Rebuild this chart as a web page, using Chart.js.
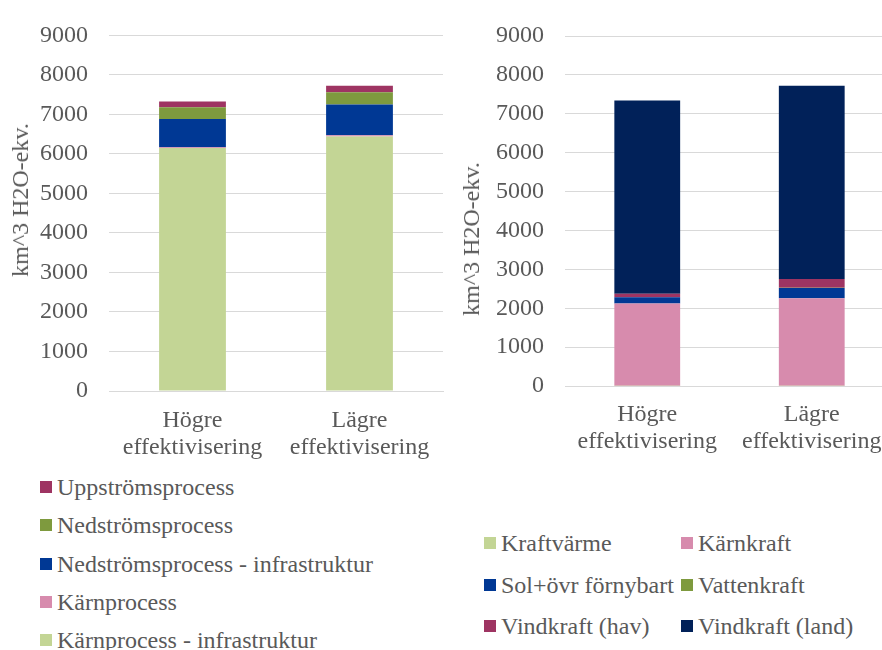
<!DOCTYPE html>
<html>
<head>
<meta charset="utf-8">
<script src="https://cdn.jsdelivr.net/npm/chart.js@4.4.1/dist/chart.umd.min.js"></script>
<style>
  html, body { margin: 0; padding: 0; background: #fff; overflow: hidden; width: 882px; height: 650px; }
  body { position: relative; font-family: 'Liberation Serif'; color: #595959; }
  canvas { position: absolute; }
  .ytitle { position: absolute; font-family: 'Liberation Serif'; font-size: 24px; white-space: nowrap; transform: translate(-50%, -50%) rotate(-90deg); line-height: 1; }
  .legend { position: absolute; font-family: 'Liberation Serif'; font-size: 24px; line-height: 1; }
  .item { position: absolute; white-space: nowrap; display: flex; align-items: center; transform: translateY(-50%); }
  .item i { display: inline-block; width: 12px; height: 12px; margin-right: 5px; }
</style>
</head>
<body>
<canvas id="leftChart" width="450" height="470" style="left:0;top:0"></canvas>
<canvas id="rightChart" width="460" height="470" style="left:440px;top:0"></canvas>
<div class="ytitle" style="left:20px;top:200px">km^3 H2O-ekv.</div>
<div class="ytitle" style="left:471px;top:239px">km^3 H2O-ekv.</div>
<div id="leftLegend" class="legend"></div>
<div id="rightLegend" class="legend"></div>
<script>
const categories = [['Högre', 'effektivisering'], ['Lägre', 'effektivisering']];
const yTicks = [0, 1000, 2000, 3000, 4000, 5000, 6000, 7000, 8000, 9000];

// vänster diagram (processteg)
const karnprocessInfra = [6150, 6440];
const karnprocess = [20, 30];
const nedstromsInfra = [715, 780];
const nedstromsprocess = [295, 310];
const uppstromsprocess = [150, 165];

// höger diagram (kraftslag)
const kraftvarme = [5, 5];
const karnkraft = [2115, 2250];
const solOvrigt = [160, 265];
const vattenkraft = [5, 5];
const vindHav = [85, 225];
const vindLand = [4970, 4970];

const C = {
    lightGreen: '#c3d595',
    pink: '#d78bad',
    blue: '#003894',
    green: '#7e9a3e',
    magenta: '#9e3462',
    navy: '#012159'
};
const textColor = '#595959';
Chart.defaults.font.family = "'Liberation Serif'";
Chart.defaults.font.size = 24;
Chart.defaults.color = textColor;

const leftSets = [
    { label: 'Kärnprocess - infrastruktur', data: karnprocessInfra, backgroundColor: C.lightGreen },
    { label: 'Kärnprocess', data: karnprocess, backgroundColor: C.pink },
    { label: 'Nedströmsprocess - infrastruktur', data: nedstromsInfra, backgroundColor: C.blue },
    { label: 'Nedströmsprocess', data: nedstromsprocess, backgroundColor: C.green },
    { label: 'Uppströmsprocess', data: uppstromsprocess, backgroundColor: C.magenta }
];
const rightSets = [
    { label: 'Kraftvärme', data: kraftvarme, backgroundColor: C.lightGreen },
    { label: 'Kärnkraft', data: karnkraft, backgroundColor: C.pink },
    { label: 'Sol+övr förnybart', data: solOvrigt, backgroundColor: C.blue },
    { label: 'Vattenkraft', data: vattenkraft, backgroundColor: C.green },
    { label: 'Vindkraft (hav)', data: vindHav, backgroundColor: C.magenta },
    { label: 'Vindkraft (land)', data: vindLand, backgroundColor: C.navy }
];

function makeChart(id, datasets, yWidth, xHeight, padding, xPad) {
    datasets.forEach(d => { d.borderWidth = 0; d.barPercentage = 0.4; d.categoryPercentage = 1; });
    return new Chart(document.getElementById(id), {
        type: 'bar',
        data: { labels: categories, datasets: datasets },
        options: {
            responsive: false,
            animation: false,
            layout: { padding: padding },
            plugins: { legend: { display: false }, tooltip: { enabled: false } },
            scales: {
                x: {
                    stacked: true,
                    grid: { display: false, drawTicks: false },
                    border: { color: '#d9d9d9', width: 1 },
                    ticks: { color: textColor, font: { lineHeight: 1.1 }, padding: xPad, maxRotation: 0 },
                    afterFit: s => { s.height = xHeight; }
                },
                y: {
                    stacked: true,
                    min: 0,
                    max: 9000,
                    afterBuildTicks: s => { s.ticks = yTicks.map(v => ({ value: v })); },
                    grid: { color: '#d9d9d9', lineWidth: 1, drawTicks: false },
                    border: { display: false },
                    ticks: { color: textColor, padding: 21, callback: v => String(v) },
                    afterFit: s => { s.width = yWidth; }
                }
            }
        }
    });
}

makeChart('leftChart', leftSets, 109, 79, { top: 24, right: 7, left: 0, bottom: 0 }, 17);
makeChart('rightChart', rightSets, 125, 84, { top: 36, right: 6, left: 0, bottom: 0 }, 16);

// legender
function addItem(box, ds, x, y) {
    const el = document.createElement('div');
    el.className = 'item';
    el.style.left = x + 'px';
    el.style.top = y + 'px';
    el.innerHTML = '<i style="background:' + ds.backgroundColor + '"></i>' + ds.label;
    box.appendChild(el);
}
const leftBox = document.getElementById('leftLegend');
leftSets.slice().reverse().forEach((ds, i) => addItem(leftBox, ds, 40, 487 + i * 38.3));
const rightBox = document.getElementById('rightLegend');
rightSets.forEach((ds, i) => addItem(rightBox, ds, i % 2 ? 681 : 484, 543 + Math.floor(i / 2) * 41.7));
</script>
</body>
</html>
